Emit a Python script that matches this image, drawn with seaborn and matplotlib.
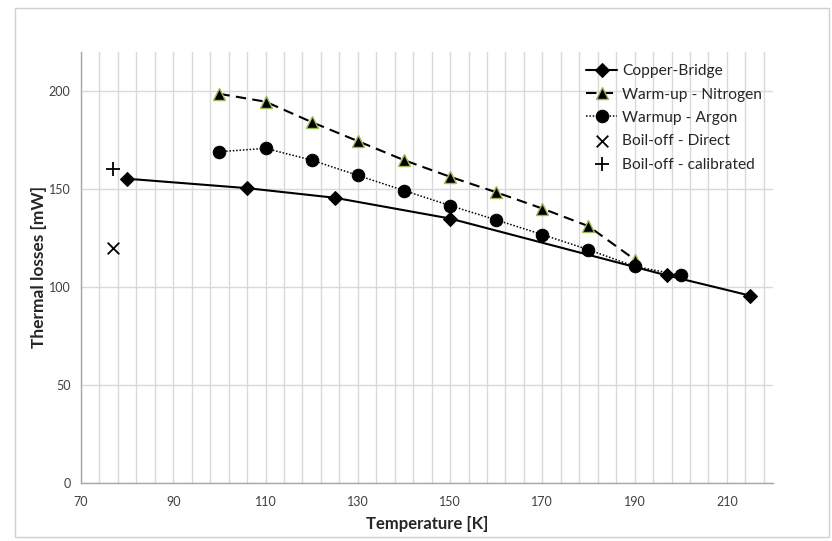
import matplotlib
matplotlib.use("Agg")
import matplotlib.pyplot as plt
import seaborn as sns
import pandas as pd
import numpy as np
from matplotlib.patches import Rectangle
from matplotlib.ticker import FixedLocator

# ---- data ----
copper_T = [80, 106, 125, 150, 197, 215]
copper_P = [155.2, 150.4, 145.5, 134.9, 105.9, 95.6]

nitrogen_T = [100, 110, 120, 130, 140, 150, 160, 170, 180, 190]
nitrogen_P = [198.5, 194.5, 184.1, 174.4, 164.7, 156.2, 148.3, 140.0, 131.0, 114.0]

argon_T = [100, 110, 120, 130, 140, 150, 160, 170, 180, 190, 200]
argon_P = [169.0, 170.7, 164.7, 156.9, 149.2, 141.5, 134.2, 126.7, 119.0, 110.5, 106.0]

direct_T = [77]
direct_P = [120]
calib_T = [77]
calib_P = [160]

labels = ["Copper-Bridge", "Warm-up - Nitrogen", "Warmup - Argon",
          "Boil-off - Direct", "Boil-off - calibrated"]

sns.set_style("white")
plt.rcParams['font.family'] = ['Lato', 'DejaVu Sans']

fig = plt.figure(figsize=(8.32, 5.41), dpi=100)
ax = fig.add_axes([81/832, 1-483/541, (773-81)/832, (483-51.7)/541])

sns.lineplot(x=copper_T, y=copper_P, ax=ax, color='black', lw=1.5,
             marker='D', markersize=7, markeredgecolor='black',
             label=labels[0], sort=False)
sns.lineplot(x=nitrogen_T, y=nitrogen_P, ax=ax, color='black', lw=1.5,
             linestyle=(0, (5, 3)), marker='^', markersize=8.5,
             markerfacecolor='black', markeredgecolor='#9BBB59', markeredgewidth=1,
             label=labels[1], sort=False)
sns.lineplot(x=argon_T, y=argon_P, ax=ax, color='black', lw=1.1,
             linestyle=(0, (1, 1.2)), marker='o', markersize=9,
             markeredgecolor='black', label=labels[2], sort=False)
sns.scatterplot(x=direct_T, y=direct_P, ax=ax, marker='x', s=70, color='black',
                linewidth=1.3, label=labels[3])
sns.scatterplot(x=calib_T, y=calib_P, ax=ax, marker='+', s=90, color='black',
                linewidth=1.3, label=labels[4])

ax.set_xlim(70, 220)
ax.set_ylim(0, 220)
ax.set_xticks(np.arange(70, 211, 20))
ax.set_yticks(np.arange(0, 201, 50))
ax.xaxis.set_minor_locator(FixedLocator(np.arange(70, 219, 4)))
ax.grid(False)
ax.grid(True, which='major', axis='y', color='#d9d9d9', lw=1)
ax.grid(True, which='both', axis='x', color='#d9d9d9', lw=1)
ax.set_axisbelow(True)

for s in ['top', 'right']:
    ax.spines[s].set_visible(False)
for s in ['left', 'bottom']:
    ax.spines[s].set_color('#a6a6a6')
    ax.spines[s].set_linewidth(1)

ax.tick_params(axis='both', which='major', length=4, color='#a6a6a6',
               labelsize=9, labelcolor='#404040', direction='out')
ax.tick_params(axis='x', which='minor', length=0)
ax.tick_params(axis='x', pad=5)

ax.set_xlabel("Temperature [K]", fontsize=12, fontweight='bold', labelpad=6)
ax.set_ylabel("Thermal losses [mW]", fontsize=12.5, fontweight='bold', labelpad=1)

leg = ax.legend(loc='upper left', bbox_to_anchor=(580/832, 1-58/541),
                bbox_transform=fig.transFigure, frameon=False, fontsize=11.2,
                handlelength=2.0, handletextpad=0.3, labelspacing=0.6,
                borderaxespad=0)

fig.patches.append(Rectangle((15/832, 1-537/541), (829-15)/832, (537-8)/541,
                             transform=fig.transFigure, fill=False,
                             edgecolor='#d0d0d0', lw=1))

fig.savefig("out.png", dpi=100)
